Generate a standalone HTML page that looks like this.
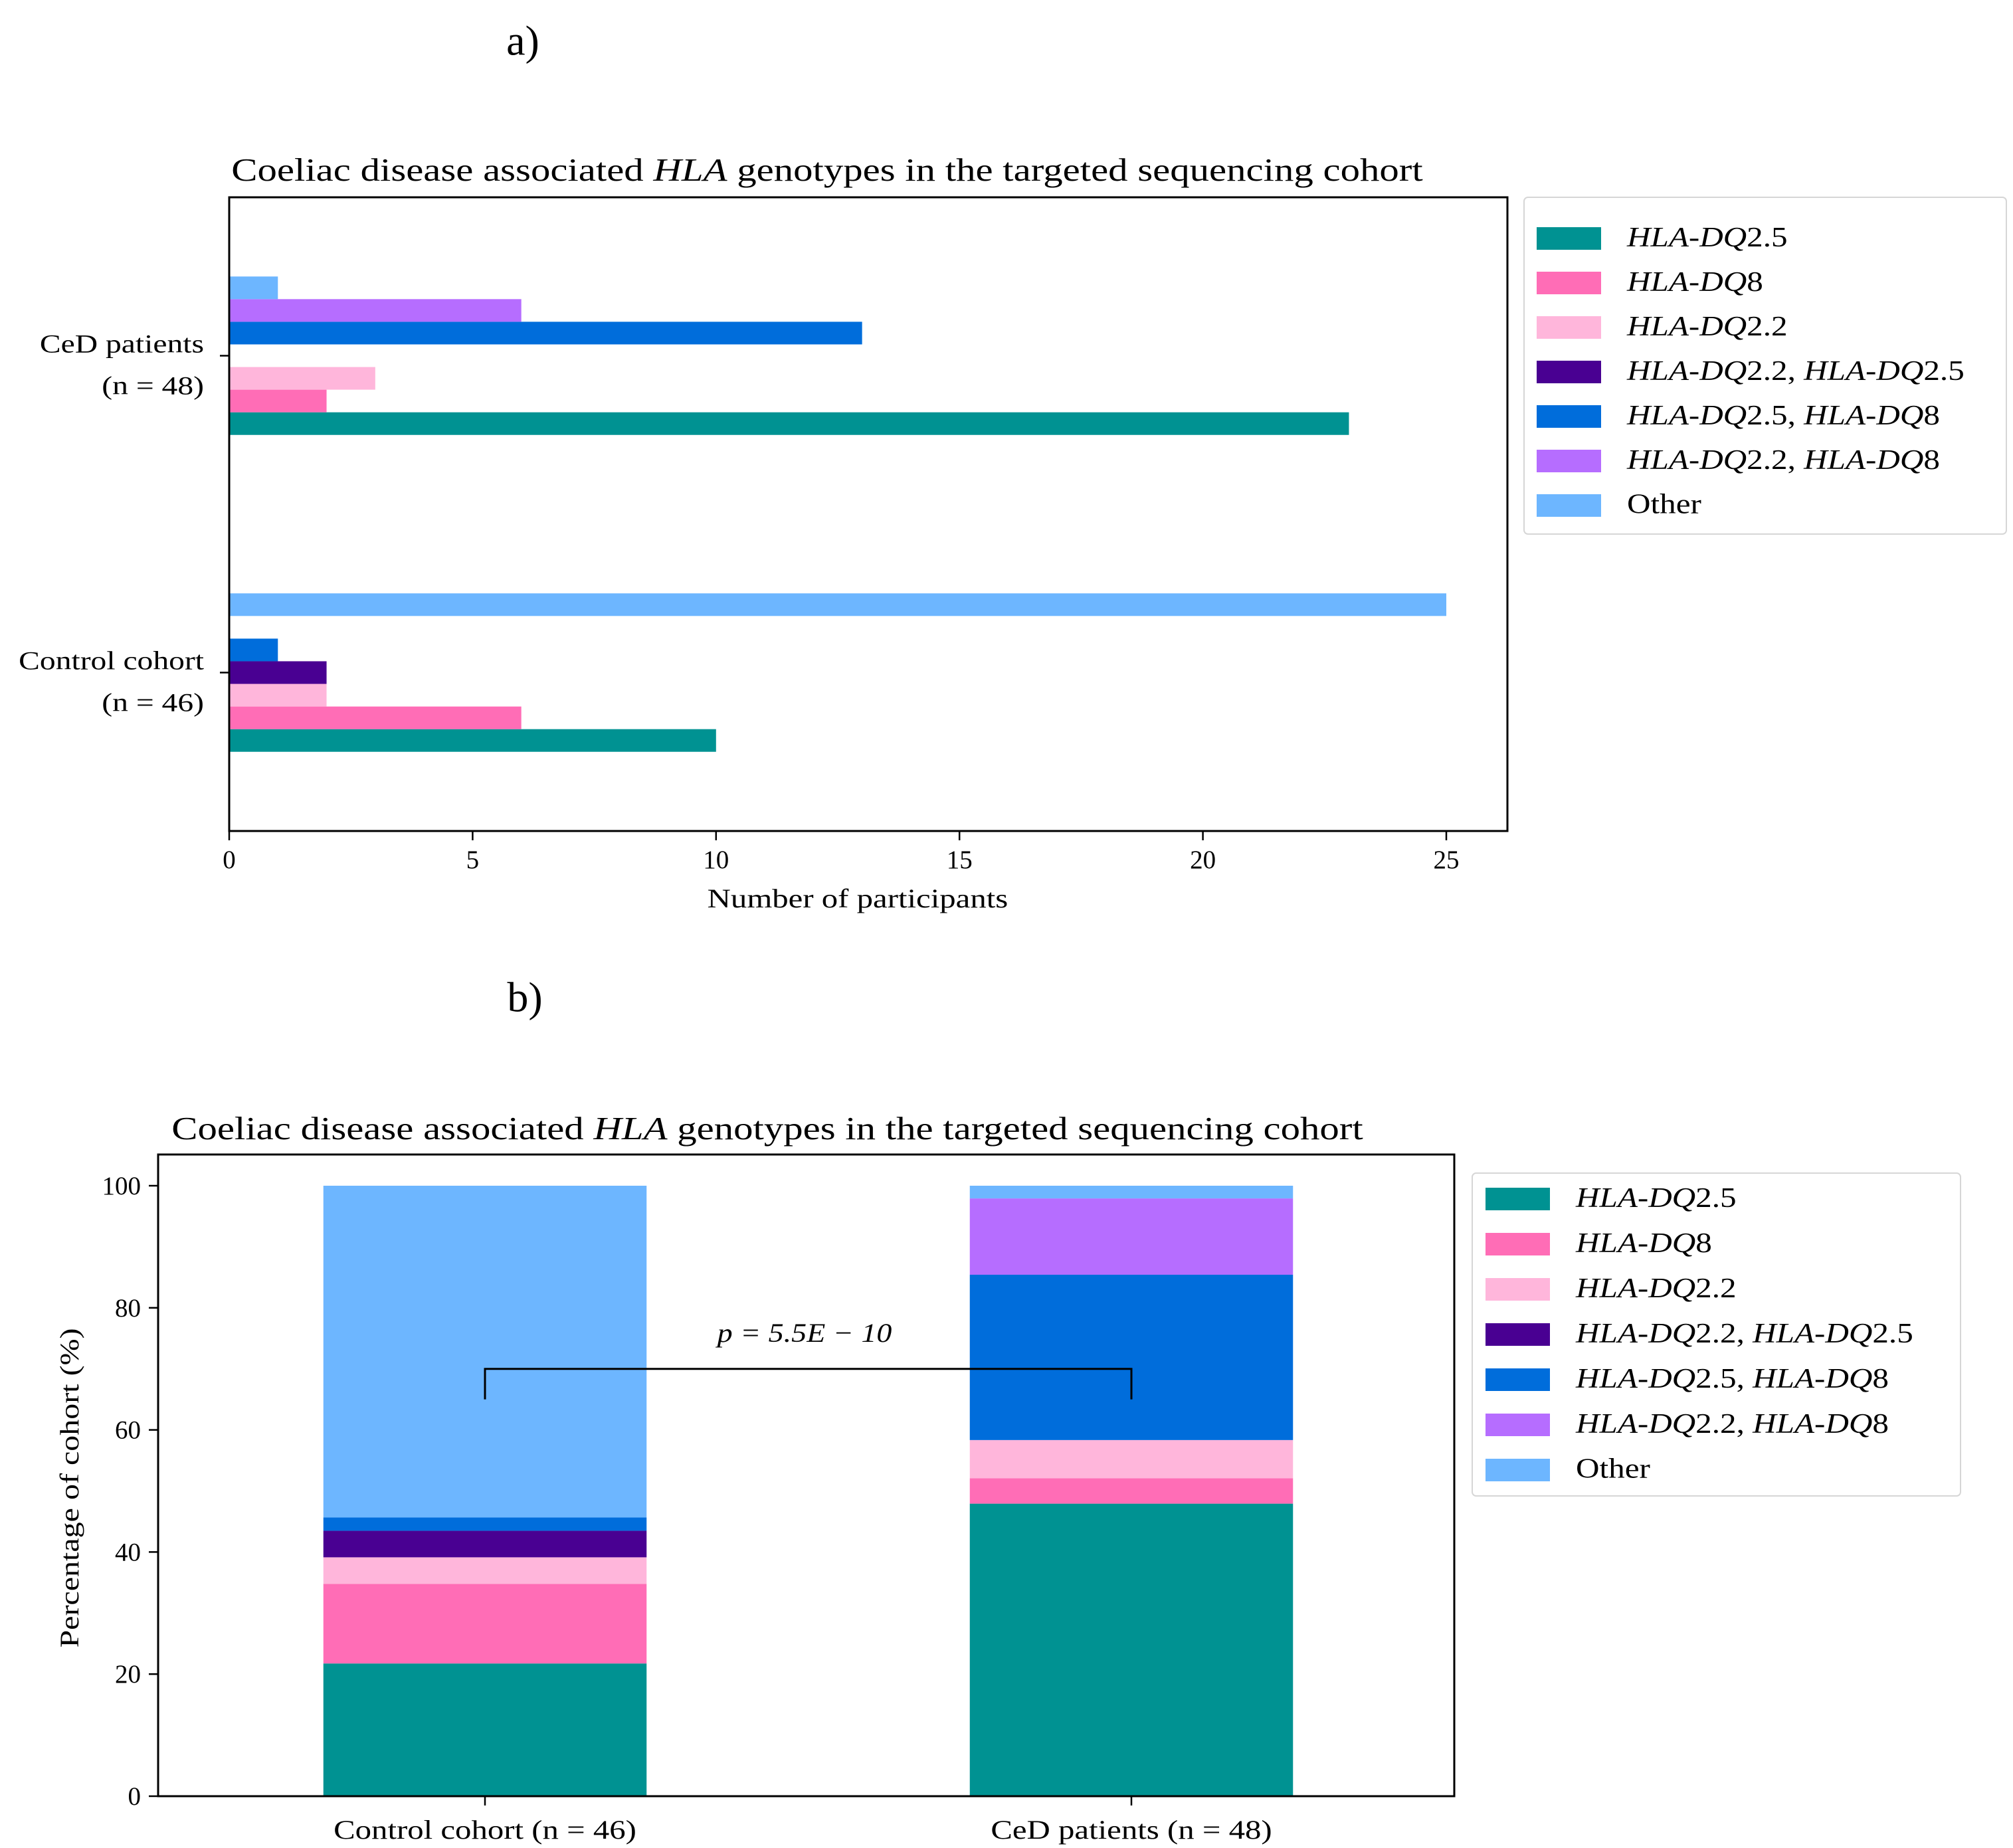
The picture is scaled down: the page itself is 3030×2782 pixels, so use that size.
<!DOCTYPE html>
<html><head><meta charset="utf-8"><style>
html,body{margin:0;padding:0;background:#fff}
svg{display:block;font-family:"Liberation Serif",serif}
</style></head><body>
<svg id="fig" width="3030" height="2782" viewBox="0 0 3030 2782" xmlns="http://www.w3.org/2000/svg">
<rect width="3030" height="2782" fill="#fff"/>
<g id="chartA"></g>
<g id="chartB"></g>
</svg>
<script>
const seriesNames = ["HLA-DQ2.5","HLA-DQ8","HLA-DQ2.2","HLA-DQ2.2, HLA-DQ2.5","HLA-DQ2.5, HLA-DQ8","HLA-DQ2.2, HLA-DQ8","Other"];
const seriesColors = ["#009292","#ff6db6","#ffb6db","#490092","#006ddb","#b66dff","#6db6ff"];
const categoriesA = ["Control cohort|(n = 46)","CeD patients|(n = 48)"];
const controlCounts = [10,6,2,2,1,0,25];
const cedCounts = [23,2,3,0,13,6,1];
const xTicksA = [0,5,10,15,20,25];
const categoriesB = ["Control cohort (n = 46)","CeD patients (n = 48)"];
const controlPct = [21.74,13.04,4.35,4.35,2.17,0,54.35];
const cedPct = [47.92,4.17,6.25,0,27.08,12.5,2.08];
const yTicksB = [0,20,40,60,80,100];
const pText = "p = 5.5E \u2212 10";

const NS="http://www.w3.org/2000/svg";
function mk(parent,tag,attrs,text){const e=document.createElementNS(NS,tag);for(const k in attrs)e.setAttribute(k,attrs[k]);if(text!==undefined)e.textContent=text;parent.appendChild(e);return e;}
function fit(el,f){try{const w=el.getComputedTextLength();if(w>0){el.setAttribute('textLength',(w*f).toFixed(1));el.setAttribute('lengthAdjust','spacingAndGlyphs');}}catch(e){}}
function legendLabel(parent,x,y,name){
  const t=mk(parent,'text',{x:x,y:y,'font-size':42,'dominant-baseline':'middle'});
  if(name==="Other"){t.textContent="Other";}
  else{
    const parts=name.split(", ");
    parts.forEach((p,i)=>{
      const m=p.match(/^HLA-DQ(.*)$/);
      if(i>0){mk(t,'tspan',{},", ");}
      mk(t,'tspan',{'font-style':'italic'},"HLA-DQ");
      mk(t,'tspan',{},m[1]);
    });
  }
  fit(t,1.17);
  return t;
}
function legend(parent,bx,by,bw,bh,px,tx,rowY0,rowGap){
  const g=mk(parent,'g',{});
  
  
  mk(g,'rect',{x:bx,y:by,width:bw,height:bh,rx:6,fill:'#fff',stroke:'#d6d6d6','stroke-width':2});
  seriesNames.forEach((n,i)=>{
    const e=mk(g,'g',{});
    
    
    const y=rowY0+i*rowGap;
    mk(e,'rect',{x:px,y:y-17,width:97,height:34,fill:seriesColors[i]});
    legendLabel(e,tx,y+2,n);
  });
}
function title(g,x,y,name){
  const t=mk(g,'text',{x:x,y:y,'font-size':49,'text-anchor':'middle'});
  
  mk(t,'tspan',{},"Coeliac disease associated ");
  mk(t,'tspan',{'font-style':'italic'},"HLA");
  mk(t,'tspan',{}," genotypes in the targeted sequencing cohort");
  fit(t,1.2);
}

// ---- Chart A ----
(function(){
  const g=document.getElementById('chartA');
  const L=345,R=2269,T=297,B=1251;
  const xs=v=>L+v*(2177-L)/25;
  const ys=v=>B-(v+0.5)*(B-T)/2;
  const bh=0.5/7;
  const data=[controlCounts,cedCounts];
  mk(g,'text',{x:787,y:68,'font-size':64,'text-anchor':'middle','dominant-baseline':'middle'},"a)");
  title(g,1245,272,'chart-a-title');
  data.forEach((arr,c)=>{
    arr.forEach((v,i)=>{
      const yc=c+(i-3)*bh;
      const r=mk(g,'rect',{x:xs(0),y:ys(yc+bh/2),width:xs(v)-xs(0),height:ys(yc-bh/2)-ys(yc+bh/2),fill:seriesColors[i]});
      
      
    });
    const yy=ys(c);
    mk(g,'line',{x1:L-14,x2:L,y1:yy,y2:yy,stroke:'#000','stroke-width':2.5});
    const lines=categoriesA[c].split('|');
    const t1=mk(g,'text',{x:L-38,y:yy-5,'font-size':39,'text-anchor':'end'},lines[0]);
    
    fit(t1,1.22);
    const t2=mk(g,'text',{x:L-38,y:yy+58,'font-size':39,'text-anchor':'end'},lines[1]);
    
    fit(t2,1.22);
  });
  mk(g,'rect',{x:L,y:T,width:R-L,height:B-T,fill:'none',stroke:'#000','stroke-width':3});
  xTicksA.forEach(t=>{
    mk(g,'line',{x1:xs(t),x2:xs(t),y1:B,y2:B+14,stroke:'#000','stroke-width':2.5});
    const tt=mk(g,'text',{x:xs(t),y:B+56,'font-size':39,'text-anchor':'middle'},String(t));
    
  });
  const xl=mk(g,'text',{x:1291,y:1366,'font-size':40,'text-anchor':'middle'},"Number of participants");
  
  fit(xl,1.22);
  legend(g,2294,297,726,507,2313,2449,359,67);
})();

// ---- Chart B ----
(function(){
  const g=document.getElementById('chartB');
  const L=238,R=2189,T=1738,B=2704;
  const ys=v=>B-v*(B-1785)/100;
  const cx=[730,1703];
  const bw=(cx[1]-cx[0])*0.5;
  mk(g,'text',{x:790,y:1508,'font-size':64,'text-anchor':'middle','dominant-baseline':'middle'},"b)");
  title(g,1155,1715,'chart-b-title');
  [controlPct,cedPct].forEach((arr,c)=>{
    let base=0;
    arr.forEach((v,i)=>{
      const r=mk(g,'rect',{x:cx[c]-bw/2,y:ys(base+v),width:bw,height:ys(base)-ys(base+v),fill:seriesColors[i]});
      
      
      base+=v;
    });
    mk(g,'line',{x1:cx[c],x2:cx[c],y1:B,y2:B+14,stroke:'#000','stroke-width':2.5});
    const tt=mk(g,'text',{x:cx[c],y:B+64,'font-size':40,'text-anchor':'middle'},categoriesB[c]);
    
    fit(tt,1.22);
  });
  mk(g,'rect',{x:L,y:T,width:R-L,height:B-T,fill:'none',stroke:'#000','stroke-width':3});
  yTicksB.forEach(t=>{
    mk(g,'line',{x1:L-14,x2:L,y1:ys(t),y2:ys(t),stroke:'#000','stroke-width':2.5});
    const tt=mk(g,'text',{x:L-26,y:ys(t)+13,'font-size':39,'text-anchor':'end'},String(t));
    
  });
  const yl=mk(g,'text',{x:0,y:0,'font-size':40,'text-anchor':'middle',transform:'translate(118,2240) rotate(-90)'},"Percentage of cohort (%)");
  
  fit(yl,1.2);
  const br=mk(g,'path',{d:`M${cx[0]},${ys(65)} L${cx[0]},${ys(70)} L${cx[1]},${ys(70)} L${cx[1]},${ys(65)}`,fill:'none',stroke:'#000','stroke-width':3});
  
  const pt=mk(g,'text',{x:1211,y:2020,'font-size':40,'text-anchor':'middle','font-style':'italic'},pText);
  
  fit(pt,1.15);
  legend(g,2216,1766,735,486,2236,2372,1805,68);
})();
</script>
</body></html>
